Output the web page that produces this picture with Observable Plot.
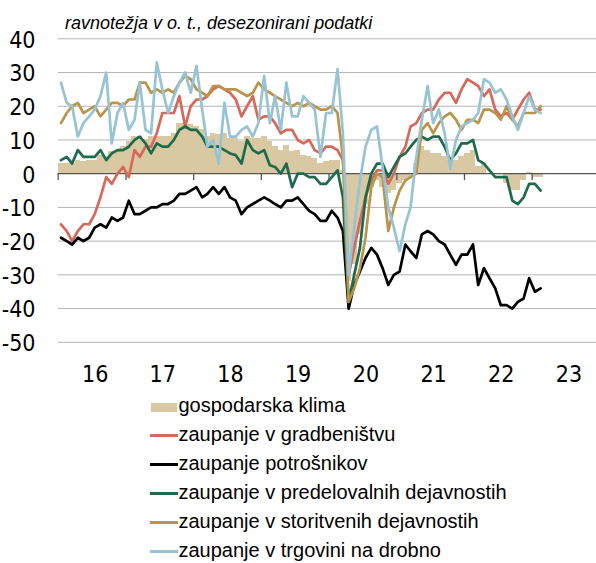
<!DOCTYPE html>
<html>
<head>
<meta charset="utf-8">
<script src="https://cdn.jsdelivr.net/npm/d3@7"></script>
<script src="https://cdn.jsdelivr.net/npm/@observablehq/plot@0.6"></script>
<style>
  html, body { margin: 0; padding: 0; background: #fff; }
  #wrap { position: relative; width: 596px; height: 563px; overflow: hidden; font-family: "Liberation Sans", Arial, sans-serif; }
  #chart { position: absolute; left: 0; top: 0; }
  #title { position: absolute; left: 65px; top: 14px; font-size: 18px; line-height: 18px; font-style: italic; color: #000; white-space: nowrap; }
  .lg-text { position: absolute; left: 178.5px; font-size: 20px; line-height: 20px; color: #000; white-space: nowrap; }
  .lg-sw { position: absolute; }
</style>
</head>
<body>
<div id="wrap">
  <div id="chart"></div>
  <div id="title">ravnotežja v o. t., desezonirani podatki</div>
  <div id="legend"></div>
</div>
<script>
// Monthly data, Jan 2016 – Feb 2023
const startYear = 2016;
const klima = [3,3,3,4,3.5,4,4,5.5,5,6.5, 7,8,9.5,11,11,10,11,11,11,11, 12,15,15,14.5,14,13,11,12,11.5,12, 10.5,10.5,9.5,11,10.5,10.5,11,9.5,8,7, 8.5,6.5,7,5.5,5,4.5,3,3.5,4,4, 1,-32,-27,-18,-9,-4,-2,-4,-6,-5, -3,-2,-1,3,8,7,6,6,5,4, 4,5,6,7,2,3,0,0,0,-3, -5,-5,-2,0.5,-1,-1];
const gradbenistvo = [-15,-17,-20,-17,-15,-15,-12,-7,-1,-3, 0,2,-1,7,5,8,8,12,18,18, 18,23,14,20,22,22,23,25,26,25, 24,22,17,20,23,16,17,17,15,12, 13,13,10,9,10,7,6,8,8,7, 4,-30,-22,-14,-7,-2,1,1,-3,0, 5,8,14,15,18,19,19,22,24,24, 21,25,28,27,26,23,25,19,17,18, 16,19,22,24,19,19];
const potrosniki = [-19,-20,-21,-19,-20,-19,-16,-15,-16,-13, -14,-13,-8,-12,-12,-11,-10,-10,-9,-9, -8,-6,-6,-5,-4,-7,-6,-4,-6,-4, -7,-8,-12,-10,-9,-8,-7,-8,-9,-10, -8,-8,-7,-9,-11,-12,-14,-14,-11,-13, -17,-40,-33,-29,-25,-22,-24,-28,-33,-30, -29,-21,-23,-25,-18,-17,-18,-20,-21,-24, -27,-24,-24,-21,-33,-28,-31,-34,-39,-39, -40,-38,-37,-31,-35,-34];
const predelovalne = [4,5,3,7,5,5,5,7,4,6, 7,7,8,10,11,9,6,9,8,8, 10,13,14,13,13,11,8,8,8,7, 6,5.5,3,10,7,6,7,2.5,2,0, 3,-4,0,0,-1,-1,-3,-3,-1,1, -7,-38,-30,-22,-7,0,3,3,-1,2, 5,6,8,10,11,10,11,11,8,4, 6,9,9,10,4,3,1,-1,-1,-1, -8,-9,-7,-3,-3,-5];
const storitve = [15,18,20,21,18,19,20,17,19,21, 21,20,22,22,27,27,24,25,24,25, 24,27,29,28,25,24,23,26,26,25, 25,25,24,23,24,27,25,24,23,22, 21,20,21,20,21,20,19,19,20,18, 5,-38,-34,-28,-19,-4,0,-1,-17,-10, -5,-2,-1,0,13,15,12,15,17,18, 16,13,16,16,15,19,19,18,16,20, 16,14,18,18,18,20];
const trgovina = [27,21,20,11,15,17,19,23,30,9, 18,21,13,16,27,13,12,33,25,18, 23,27,30,24,32,19,8,10,3,21, 11,11,13,14,11,15,29,15,23,13, 27,17,17,23,21,19,5,18,18,31, 12,-30,-16,-2,8,13,14,2,-10,-16, -23,-15,-10,5,16,26,15,19,12,1.5, 10,14,15,16,18,28,27,24,25,22, 17,13,18,23,19,18];

const yearLabels = ["16","17","18","19","20","21","22","23"];
const yTicks = [40,30,20,10,0,-10,-20,-30,-40,-50];
const gridValues = [40,30,20,10,-10,-20,-30,-40,-50];

const seriesNames = ["zaupanje v gradbeništvu","zaupanje potrošnikov","zaupanje v predelovalnih dejavnostih","zaupanje v storitvenih dejavnostih","zaupanje v trgovini na drobno"];
const seriesValues = [gradbenistvo, potrosniki, predelovalne, storitve, trgovina];
const seriesColors = ["#d5695b","#000000","#1d6b4b","#b8954b","#97c3d4"];
const barName = "gospodarska klima";
const barColor = "#d9c9a3";

const mid = m => new Date(Date.UTC(startYear, m, 16));
const mStart = m => new Date(Date.UTC(startYear, m, 1));

const barData = klima.map((v, m) => ({x1: mStart(m), x2: mStart(m + 1), v}));
const lineData = seriesValues.map((arr, i) => arr.map((v, m) => ({date: mid(m), v, s: seriesNames[i]})));
const yearStarts = yearLabels.map((_, i) => new Date(Date.UTC(startYear + i, 0, 1)));
const yearMids = yearLabels.map((l, i) => ({date: new Date(Date.UTC(startYear + i, 6, 2)), label: l}));

const tickFont = "'Liberation Sans Narrow', 'Arial Narrow', 'DejaVu Sans Condensed', sans-serif";
const x0 = new Date(Date.UTC(startYear, 0, 1));
const chart = Plot.plot({
  width: 596,
  height: 390,
  marginLeft: 57.7,
  marginRight: 0,
  marginTop: 38.3,
  marginBottom: 48.2,
  x: {type: "utc", domain: [x0, new Date(Date.UTC(2024, 0, 1))], range: [57.7, 599.3], axis: null},
  y: {domain: [-50, 40], axis: null},
  style: {fontFamily: "'Liberation Sans', Arial, sans-serif", overflow: "visible", background: "transparent"},
  marks: [
    Plot.ruleY(gridValues, {stroke: "#b5b5b5", strokeWidth: 1}),
    Plot.rect(barData, {x1: "x1", x2: "x2", y1: 0, y2: "v", fill: barColor, shapeRendering: "crispEdges"}),
    Plot.ruleY([0], {stroke: "#555", strokeWidth: 1.3}),
    Plot.ruleX(yearStarts, {y1: 0, y2: -2, stroke: "#555", strokeWidth: 1.3}),
    ...lineData.map((d, i) => Plot.line(d, {x: "date", y: "v", stroke: seriesColors[i], strokeWidth: 2.7, strokeLinejoin: "round"})),
    Plot.text(yTicks, {x: () => x0, y: d => d, text: d => String(d), textAnchor: "end", dx: -22.7, dy: 1.5, fontSize: 23, fontFamily: tickFont, fill: "#000"}),
    Plot.text(yearMids, {x: "date", y: () => -50, text: "label", dx: 3, dy: 32.5, fontSize: 23, fontFamily: tickFont, fill: "#000"})
  ]
});
document.getElementById("chart").appendChild(chart);

// Legend
const legend = document.getElementById("legend");
const rowBaseline0 = 413.3, rowStep = 28.9;
const items = [{name: barName, color: barColor, bar: true}].concat(seriesNames.map((n, i) => ({name: n, color: seriesColors[i], bar: false})));
items.forEach((it, i) => {
  const base = rowBaseline0 + i * rowStep;
  const sw = document.createElement("div");
  sw.className = "lg-sw";
  if (it.bar) {
    sw.style.left = "150.7px"; sw.style.width = "26.7px";
    sw.style.top = (base - 10) + "px"; sw.style.height = "8.4px";
  } else {
    sw.style.left = "150px"; sw.style.width = "27.5px";
    sw.style.top = (base - 6.6 - 1.4) + "px"; sw.style.height = "2.8px";
  }
  sw.style.background = it.color;
  legend.appendChild(sw);
  const t = document.createElement("div");
  t.className = "lg-text";
  t.textContent = it.name;
  t.style.top = (base - 17.9) + "px";
  legend.appendChild(t);
});
</script>
</body>
</html>
